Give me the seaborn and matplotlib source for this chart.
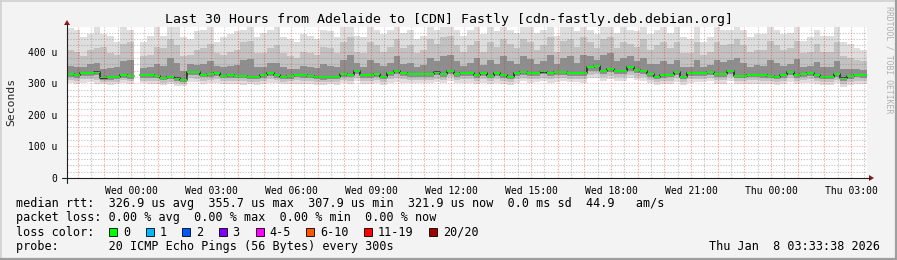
import numpy as np
import pandas as pd
import matplotlib
matplotlib.use("Agg")
import matplotlib.pyplot as plt
import seaborn as sns
from matplotlib.patches import Rectangle, Polygon
from matplotlib.lines import Line2D

nan = np.nan

# ---------------- data (15-minute steps, 30 hours, values in microseconds) ----------------
median_rtt = [328, 326, 331, 333, 334, 318, 319, 320, 327, 322,
              nan, 325, 325, 324, 316, 320, 315, 309, 336, 335,
              327, 330, 333, 323, 325, 324, 324, 320, 320, 326,
              333, 326, 321, 322, 327, 326, 324, 321, 319, 321,
              320, 328, 327, 338, 325, 326, 330, 321, 332, 338,
              332, 330, 329, 330, 328, 334, 329, 340, 330, 331,
              331, 326, 331, 324, 331, 326, 321, 331, 336, 331,
              333, 337, 331, 335, 336, 333, 333, 331, 350, 355,
              339, 344, 339, 339, 350, 342, 339, 329, 321, 326,
              327, 336, 320, 331, 332, 333, 336, 329, 329, 340,
              323, 323, 327, 327, 325, 324, 320, 325, 336, 326,
              328, 332, 326, 321, 320, 328, 315, 322, 327, 325]

smoke_max = [475, 470, 445, 455, 478, 455, 450, 430, 478, 470,
             nan, 430, 450, 478, 450, 478, 478, 445, 440, 465,
             470, 478, 430, 445, 455, 465, 470, 478, 445, 460,
             470, 478, 445, 440, 430, 455, 450, 440, 468, 465,
             445, 478, 478, 450, 445, 478, 470, 455, 470, 478,
             460, 468, 440, 450, 478, 470, 478, 478, 468, 450,
             470, 478, 455, 478, 465, 478, 470, 460, 478, 478,
             460, 470, 478, 450, 478, 478, 465, 478, 470, 455,
             478, 478, 460, 478, 470, 465, 478, 455, 470, 478,
             460, 478, 445, 440, 478, 430, 445, 478, 468, 470,
             478, 470, 445, 455, 455, 478, 470, 455, 460, 478,
             435, 445, 470, 450, 450, 478, 430, 425, 410, 405]

smoke_p90 = [405, 400, 385, 405, 410, 415, 395, 390, 425, 430,
             nan, 385, 390, 415, 410, 440, 420, 385, 390, 405,
             410, 425, 395, 390, 400, 405, 430, 435, 395, 395,
             410, 420, 395, 385, 380, 400, 395, 390, 415, 410,
             395, 430, 445, 400, 395, 430, 420, 400, 415, 440,
             410, 420, 395, 405, 440, 425, 445, 450, 420, 400,
             420, 435, 400, 430, 415, 440, 425, 410, 440, 430,
             405, 420, 445, 400, 435, 440, 415, 445, 430, 410,
             440, 445, 410, 430, 425, 415, 440, 405, 420, 430,
             410, 430, 395, 395, 430, 390, 400, 430, 420, 425,
             440, 420, 400, 405, 405, 435, 420, 405, 410, 435,
             395, 400, 425, 400, 400, 430, 385, 380, 375, 370]

smoke_p75 = [355, 350, 352, 360, 365, 345, 348, 350, 370, 375,
             nan, 348, 350, 360, 355, 380, 365, 340, 360, 358,
             360, 370, 355, 350, 355, 358, 372, 378, 350, 352,
             365, 365, 350, 345, 345, 355, 350, 348, 360, 355,
             350, 375, 390, 365, 352, 375, 365, 355, 365, 385,
             360, 365, 352, 358, 380, 370, 385, 390, 370, 355,
             365, 380, 358, 375, 362, 385, 370, 360, 385, 378,
             360, 370, 390, 360, 380, 385, 365, 390, 385, 375,
             390, 395, 370, 380, 385, 370, 380, 360, 360, 370,
             360, 375, 350, 352, 375, 350, 358, 375, 368, 372,
             380, 365, 352, 358, 355, 375, 365, 355, 360, 378,
             350, 355, 368, 352, 352, 370, 345, 345, 345, 342]

smoke_p25 = [320, 318, 322, 324, 325, 310, 311, 312, 318, 314,
             nan, 317, 317, 316, 309, 312, 308, 303, 326, 326,
             319, 321, 324, 315, 317, 316, 316, 312, 312, 318,
             324, 318, 313, 314, 319, 318, 316, 313, 311, 313,
             312, 320, 319, 328, 317, 318, 321, 313, 323, 328,
             323, 321, 320, 321, 320, 325, 320, 330, 321, 322,
             322, 318, 322, 316, 322, 318, 313, 322, 327, 322,
             324, 328, 322, 326, 327, 324, 324, 322, 338, 340,
             329, 334, 329, 329, 338, 332, 329, 320, 313, 318,
             319, 327, 312, 322, 323, 324, 327, 320, 320, 330,
             315, 315, 319, 319, 317, 316, 312, 317, 327, 318,
             320, 323, 318, 313, 312, 320, 307, 314, 319, 317]

smoke_min = [300, 298, 302, 303, 298, 296, 295, 297, 300, 298,
             nan, 300, 299, 297, 293, 296, 292, 290, 305, 303,
             298, 300, 301, 296, 298, 297, 295, 296, 294, 298,
             302, 300, 296, 297, 299, 299, 297, 295, 294, 296,
             294, 300, 298, 306, 298, 297, 300, 295, 302, 305,
             302, 300, 300, 301, 300, 304, 300, 308, 301, 302,
             302, 298, 302, 297, 302, 298, 294, 302, 306, 302,
             303, 306, 302, 305, 306, 303, 303, 302, 315, 317,
             308, 312, 308, 308, 315, 310, 308, 300, 295, 298,
             298, 305, 293, 302, 303, 304, 306, 299, 299, 308,
             296, 296, 299, 299, 297, 296, 293, 297, 305, 298,
             300, 302, 298, 294, 293, 300, 288, 294, 298, 296]

step_hours = 0.25
first_label_offset = 2.4   # hours from left edge to "Wed 00:00"
tick_labels = ["Wed 00:00", "Wed 03:00", "Wed 06:00", "Wed 09:00", "Wed 12:00",
               "Wed 15:00", "Wed 18:00", "Wed 21:00", "Thu 00:00", "Thu 03:00"]
y_ticks = [0, 100, 200, 300, 400]
y_tick_labels = ["0", "100 u", "200 u", "300 u", "400 u"]

title = "Last 30 Hours from Adelaide to [CDN] Fastly [cdn-fastly.deb.debian.org]"
legend_rows = [
    "median rtt:  326.9 us avg  355.7 us max  307.9 us min  321.9 us now  0.0 ms sd  44.9   am/s",
    "packet loss: 0.00 % avg  0.00 % max  0.00 % min  0.00 % now",
    "loss color:",
    "probe:       20 ICMP Echo Pings (56 Bytes) every 300s",
]
loss_labels = ["0", "1", "2", "3", "4-5", "6-10", "11-19", "20/20"]
loss_colors = ["#00ff00", "#00b8ff", "#0059ff", "#7e00ff", "#ff00ff", "#ff5500", "#ff0000", "#a10000"]
timestamp = "Thu Jan  8 03:33:38 2026"
watermark = "RRDTOOL / TOBI OETIKER"

# ---------------- figure ----------------
W, H = 897, 260
sns.set_theme(style="white")
plt.rcParams["font.family"] = ["DejaVu Sans Mono"]
plt.rcParams["lines.scale_dashes"] = False

fig = plt.figure(figsize=(W / 100, H / 100), dpi=100, facecolor="#f3f3f3")


def fx(px):
    return px / W


def fy(py):
    return 1 - py / H


X0, X1, YT, YB = 67, 867, 27, 178
ax = fig.add_axes([fx(X0), fy(YB), (X1 - X0) / W, (YB - YT) / H])
ax.set_facecolor("white")
n = len(median_rtt)
total_h = n * step_hours
YMAX = 478
ax.set_xlim(0, total_h)
ax.set_ylim(0, YMAX)
for s in ax.spines.values():
    s.set_visible(False)


def steps(a):
    a = np.asarray(a, float)
    edges = np.arange(len(a) + 1) * step_hours
    xs = np.column_stack([edges[:-1], edges[1:]]).ravel()
    ys = np.repeat(a, 2)
    return xs, ys


xs, y_max = steps(smoke_max)
_, y_min = steps(smoke_min)
_, y_p90 = steps(smoke_p90)
_, y_p75 = steps(smoke_p75)
_, y_p25 = steps(smoke_p25)
_, y_med = steps(median_rtt)

ax.fill_between(xs, y_min, y_max, color="#dedede", lw=0, zorder=1)
ax.fill_between(xs, (y_min + y_p25) / 2, y_p90, color="#c2c2c2", lw=0, zorder=1.1)
ax.fill_between(xs, y_p25, y_p75, color="#8e8e8e", lw=0, zorder=1.2)

# median line (dark step line) via seaborn, split at gaps
df = pd.DataFrame({"t": xs, "rtt": y_med})
df["seg"] = np.cumsum(np.isnan(df["rtt"].values))
df = df.dropna()
sns.lineplot(data=df, x="t", y="rtt", units="seg", estimator=None, sort=False,
             color="#202020", lw=1.1, ax=ax, zorder=3, legend=False)
ax.fill_between(xs, y_med - 3.0, y_med + 3.0, color="#00ff00", lw=0, zorder=4)
ax.set_xlabel("")
ax.set_ylabel("")

# ---------------- grid ----------------
dot = (0, (1, 1))
for k in range(0, 31):
    t = first_label_offset - 2 + k      # whole hours (red)
    if 0 < t < total_h:
        ax.axvline(t, color="#ff0000", alpha=0.35, lw=0.8, ls=dot, zorder=5)
    th = t + 0.5                          # half hours (gray)
    if 0 < th <= total_h:
        ax.axvline(th, color="#888888", alpha=0.45, lw=0.8, ls=dot, zorder=5)
for v in range(20, YMAX, 20):
    if v % 100 == 0:
        ax.axhline(v, color="#ff0000", alpha=0.25, lw=0.8, ls=dot, zorder=5)
    else:
        ax.axhline(v, color="#888888", alpha=0.45, lw=0.8, ls=dot, zorder=5)

# ---------------- ticks ----------------
label_pos = [first_label_offset + 3 * k for k in range(len(tick_labels))]
ax.set_xticks(label_pos)
ax.set_xticklabels(tick_labels, fontsize=7.05, color="#000000")
ax.set_yticks(y_ticks)
ax.set_yticklabels(y_tick_labels, fontsize=7.05, color="#000000")
ax.tick_params(axis="x", length=2, width=0.8, color="#ff8080", pad=3.5)
ax.tick_params(axis="y", length=2, width=0.8, color="#ff8080", pad=5)
ax.set_xticks([first_label_offset - 2 + k for k in range(31) if 0 < first_label_offset - 2 + k < total_h],
              minor=True)
ax.set_yticks(list(range(20, YMAX, 20)), minor=True)
ax.tick_params(which="minor", length=2, width=0.8, color="#bbbbbb")

# axis lines and arrows
fig.add_artist(Line2D([fx(62), fx(870)], [fy(178), fy(178)], color="#202020", lw=0.8))
fig.add_artist(Line2D([fx(67), fx(67)], [fy(183), fy(24)], color="#202020", lw=0.8))
fig.add_artist(Polygon([[fx(64), fy(25)], [fx(70), fy(25)], [fx(67), fy(20)]],
                       closed=True, color="#8b1a1a", lw=0))
fig.add_artist(Polygon([[fx(869), fy(175)], [fx(869), fy(181)], [fx(874), fy(178)]],
                       closed=True, color="#8b1a1a", lw=0))

# ---------------- texts ----------------
fig.text(fx(448.5), fy(19), title, fontsize=9.5, ha="center", va="center", color="#000000")
fig.text(fx(11), fy(102), "Seconds", fontsize=8.2, rotation=90, ha="center", va="center")
fig.text(fx(889), fy(60), watermark, fontsize=5.9, rotation=270, ha="center", va="center",
         color="#b0b0b0")

row_y = [204, 218, 232, 246.5]
LFS = 8.48
CW = 7.09
for txt, yy in zip(legend_rows, row_y):
    fig.text(fx(16), fy(yy), txt, fontsize=LFS, ha="left", va="center", color="#000000")
fig.text(fx(880), fy(row_y[3]), timestamp, fontsize=LFS, ha="right", va="center", color="#000000")

bx = 109.3   # left edge of first legend box
for lab, col in zip(loss_labels, loss_colors):
    fig.add_artist(Rectangle((fx(bx), fy(row_y[2] + 4)), 8 / W, 8 / H,
                             facecolor=col, edgecolor="#000000", lw=0.6))
    lx = bx + 13.5
    fig.text(fx(lx), fy(row_y[2]), lab, fontsize=LFS, ha="left", va="center", color="#000000")
    bx = lx + len(lab) * CW + 16.0

# 3D frame
fig.add_artist(Line2D([0, 1], [fy(0.5), fy(0.5)], color="#cfcfcf", lw=1.2))
fig.add_artist(Line2D([fx(0.5), fx(0.5)], [0, 1], color="#cfcfcf", lw=1.2))
fig.add_artist(Line2D([0, 1], [fy(259), fy(259)], color="#9e9e9e", lw=1.6))
fig.add_artist(Line2D([fx(896), fx(896)], [0, 1], color="#9e9e9e", lw=1.6))

fig.savefig("out.png", dpi=100, facecolor=fig.get_facecolor())
